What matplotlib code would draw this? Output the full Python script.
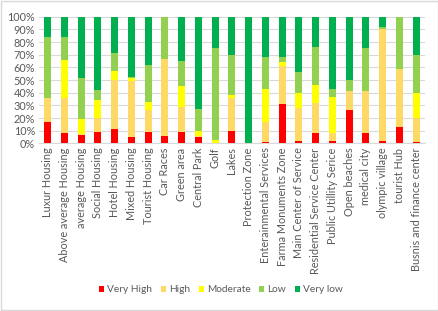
import matplotlib
matplotlib.use("Agg")
import matplotlib.pyplot as plt
import numpy as np
from matplotlib.patches import Rectangle

categories = ["Luxur Housing", "Above average Housing", "average Housing", "Social Housing",
              "Hotel Housing", "Mixed Housing", "Tourist Housing", "Car Races", "Green area",
              "Central Park", "Golf", "Lakes", "Protection Zone", "Enterainmental Services",
              "Farma Monuments Zone", "Main Center of Service", "Residential Service Center",
              "Public Utillity Serice", "Open beaches", "medical city", "olympic village",
              "tourist Hub", "Busnis and finance center"]

very_high = [17, 8.4, 7, 9, 11, 5, 9, 6, 9, 5.3, 0, 10, 0, 1.3, 31, 1.6, 8, 1.6, 26, 8.4, 1.6, 12.6, 0.8]
high      = [19, 27.6, 0.6, 11, 39, 44, 17, 61, 20, 0.7, 0, 26, 0, 15.7, 30, 26.4, 23.6, 6.4, 15, 33.2, 88.4, 46.1, 18.9]
moderate  = [0, 29.5, 11.9, 14, 7, 2.5, 7, 0, 16, 4, 2.6, 2.4, 0, 25.6, 3, 11.5, 14.4, 29, 0, 0, 0, 0, 20.3]
low       = [48, 18.5, 32.5, 8, 14.5, 1.1, 29, 33, 20, 17, 72.4, 31.6, 0, 25.4, 4, 16.5, 30, 5.6, 9, 33.9, 2, 41.3, 30]
very_low  = [100 - a - b - c - d for a, b, c, d in zip(very_high, high, moderate, low)]

series = [("Very High", very_high, "#FF0000"),
          ("High", high, "#FFD966"),
          ("Moderate", moderate, "#FFFF00"),
          ("Low", low, "#92D050"),
          ("Very low", very_low, "#00B050")]

plt.rcParams['font.family'] = ['Lato', 'DejaVu Sans']
txt = "#595959"

fig = plt.figure(figsize=(4.39, 3.11), dpi=100)
ax = fig.add_axes([0.0895, 0.539, 0.8775, 0.407])

x = np.arange(len(categories))
bottom = np.zeros(len(categories))
handles = []
for name, vals, col in series:
    v = np.array(vals, dtype=float)
    b = ax.bar(x, v, 0.42, bottom=bottom, color=col, label=name, zorder=3)
    handles.append(b)
    bottom += v

ax.set_xlim(-0.5, len(categories) - 0.5)
ax.set_ylim(0, 100)
ax.set_yticks(np.arange(0, 101, 10))
ax.set_yticklabels([f"{v}%" for v in range(0, 101, 10)], fontsize=7.8, color=txt)
ax.set_xticks(x)
ax.set_xticklabels(categories, rotation=90, fontsize=7.8, color=txt)
ax.tick_params(length=0, pad=3)
ax.grid(axis='y', color="#d9d9d9", linewidth=0.8, zorder=0)
for s in ["top", "right", "left"]:
    ax.spines[s].set_visible(False)
ax.spines["bottom"].set_color("#d9d9d9")

fig.legend(handles=handles, labels=[s[0] for s in series], loc="center",
           bbox_to_anchor=(0.503, 0.068), ncol=5, frameon=False, fontsize=7.3,
           handlelength=0.5, handleheight=0.6, handletextpad=0.3, columnspacing=0.85,
           labelcolor=txt)

fig.patches.append(Rectangle((0.003, 0.004), 0.994, 0.992, transform=fig.transFigure,
                             fill=False, edgecolor="#d9d9d9", linewidth=1))

fig.savefig("out.png", dpi=100, facecolor="white")
